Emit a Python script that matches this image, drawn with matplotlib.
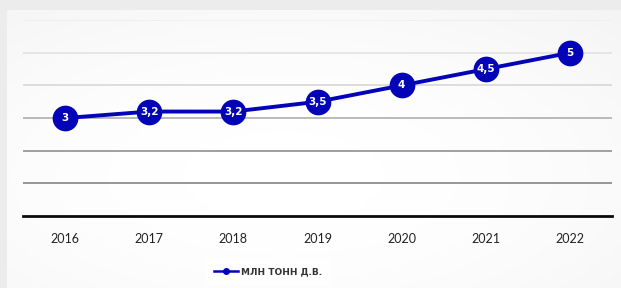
import numpy as np
import matplotlib.pyplot as plt
from matplotlib.lines import Line2D

years = ["2016", "2017", "2018", "2019", "2020", "2021", "2022"]
values = [3, 3.2, 3.2, 3.5, 4, 4.5, 5]
labels = ["3", "3,2", "3,2", "3,5", "4", "4,5", "5"]
series_name = "МЛН ТОНН Д.В."

blue = "#0303b8"

fig = plt.figure(figsize=(6.21, 2.88), dpi=100)
fig.patch.set_facecolor("#ececec")

# soft light background, brighter in the middle
bg = fig.add_axes([0.012, 0, 0.988, 0.965], zorder=-10)
yy, xx = np.mgrid[0:1:100j, 0:1:200j]
glow = 1 - 0.7 * ((xx - 0.45) ** 2 + (yy - 0.6) ** 2)
bg.imshow(glow, cmap="Greys_r", vmin=-4, vmax=1.0, aspect="auto", extent=(0, 1, 0, 1))
bg.set_axis_off()

ax = fig.add_axes([23 / 621, 0.25, 589 / 621, 0.68])
ax.set_facecolor("none")
x = np.arange(len(years))

# horizontal gridlines, upper ones faded by glare
grid_colors = {1: "#8e8e8e", 2: "#999999", 3: "#b4b4b4", 4: "#dadada", 5: "#e4e4e4", 6: "#eeeeee"}
for lvl, c in grid_colors.items():
    ax.axhline(lvl, color=c, lw=1.3, zorder=1)
ax.axhline(0, color="#0a0a0a", lw=2.0, zorder=2, clip_on=False)

ax.plot(x, values, color=blue, lw=2.8, marker="o", ms=17.5, mfc=blue, mec=blue, zorder=3,
        label=series_name)
for xi, v, t in zip(x, values, labels):
    ax.text(xi, v, t, color="white", fontsize=7.5, fontweight="bold", family="DejaVu Sans",
            ha="center", va="center", zorder=4)

ax.set_xlim(-0.5, len(years) - 0.5)
ax.set_ylim(0, 6)
ax.set_xticks(x)
ax.set_xticklabels(years, fontsize=9, color="#222222", family="Lato")
ax.tick_params(axis="x", length=0, pad=12)
ax.set_yticks([])
for s in ax.spines.values():
    s.set_visible(False)

# legend with a small handle
h = Line2D([], [], color=blue, lw=1.8, marker="o", ms=4)
leg = fig.legend([h], [series_name], loc="center", bbox_to_anchor=(268 / 621, 1 - 272 / 288),
                 frameon=True, fancybox=False, edgecolor="none", facecolor="white", framealpha=0.9,
                 prop={"size": 6.5, "weight": "bold", "family": "DejaVu Sans"},
                 handlelength=2.6, handletextpad=0.3, borderpad=1.0)
for t in leg.get_texts():
    t.set_color("#333333")

fig.savefig("out.png", dpi=100, facecolor=fig.get_facecolor())
